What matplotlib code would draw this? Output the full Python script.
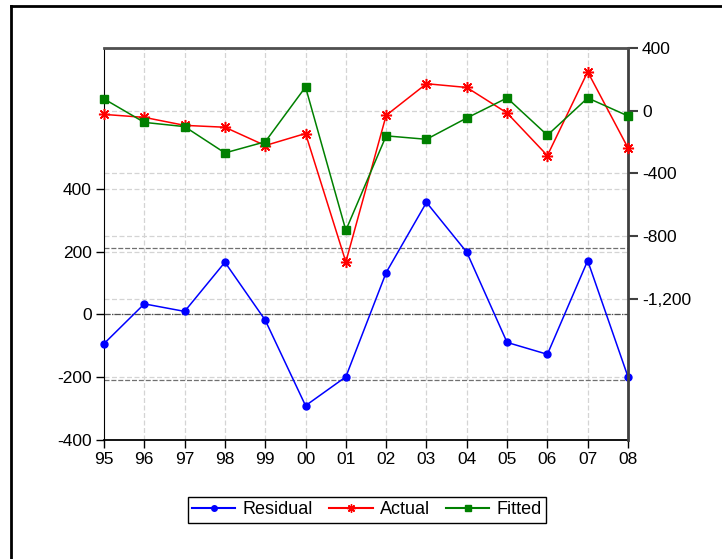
import matplotlib.pyplot as plt
import matplotlib.transforms as mtransforms
from matplotlib.lines import Line2D

plt.rcParams['font.family'] = ['Liberation Sans', 'DejaVu Sans']
plt.rcParams['axes.unicode_minus'] = False

# Datos
years = ["95", "96", "97", "98", "99", "00", "01", "02", "03", "04", "05", "06", "07", "08"]
residual = [-94, 33, 9, 166, -19, -292, -200, 133, 357, 198, -90, -128, 171, -200]
actual = [-24, -43, -94, -106, -223, -146, -966, -30, 172, 148, -15, -287, 248, -238]
fitted = [75, -75, -102, -270, -199, 151, -764, -161, -183, -47, 81, -157, 81, -34]
se_residual = 210

left_ticks = [-400, -200, 0, 200, 400]
right_ticks = [-1200, -800, -400, 0, 400]

x = list(range(len(years)))

fig = plt.figure(figsize=(7.22, 5.59), dpi=100)
ax = fig.add_axes([104 / 722, 1 - 439.5 / 559, 524 / 722, 391.5 / 559])
ax2 = ax.twinx()

ax.set_xlim(0, len(years) - 1)
ax.set_ylim(-400, 850)
ax2.set_ylim(-2100, 400)

# Rejilla
grid_kw = dict(color="#d4d4d4", linestyle=(0, (4, 2)), linewidth=0.9, zorder=0)
for xi in x[1:-1]:
    ax.axvline(xi, **grid_kw)
for v in left_ticks[1:]:
    ax.axhline(v, **grid_kw)
trans = mtransforms.blended_transform_factory(ax.transAxes, ax2.transData)
for v in right_ticks[:-1]:
    ax.plot([0, 1], [v, v], transform=trans, **grid_kw)

# Lineas de referencia del residuo
ax.axhline(0, color="#505050", linestyle=(0, (5, 1, 1, 1)), linewidth=0.9, zorder=1)
ax.axhline(se_residual, color="#707070", linestyle=(0, (4, 1.5)), linewidth=0.9, zorder=1)
ax.axhline(-se_residual, color="#707070", linestyle=(0, (4, 1.5)), linewidth=0.9, zorder=1)

ax.plot(x, residual, color="#0000ff", marker="o", markersize=5, linewidth=1.1,
        clip_on=False, zorder=3)
ax2.plot(x, actual, color="#ff0000", marker=(8, 2, 0), markersize=8, markeredgewidth=1.1,
         linewidth=1.1, clip_on=False, zorder=3)
ax2.plot(x, fitted, color="#008000", marker="s", markersize=6, linewidth=1.1,
         clip_on=False, zorder=3)

ax.set_xticks(x)
ax.set_xticklabels(years)
ax.set_yticks(left_ticks)
ax2.set_yticks(right_ticks)
ax2.set_yticklabels(["{:,}".format(v) for v in right_ticks])

ax.tick_params(axis="both", direction="out", length=6, width=1, labelsize=12.5, pad=3)
ax2.tick_params(axis="y", direction="out", length=7, width=1.5, color="#404040",
                labelsize=12.5, pad=3)

ax.spines["left"].set_color("black")
ax.spines["bottom"].set_color("black")
ax.spines["bottom"].set_linewidth(1.3)
ax2.spines["right"].set_color("#404040")
ax2.spines["right"].set_linewidth(2)
ax2.spines["top"].set_color("#505050")
ax2.spines["top"].set_linewidth(2)
ax2.spines["left"].set_visible(False)
ax2.spines["bottom"].set_visible(False)

# Leyenda
handles = [
    Line2D([], [], color="#0000ff", marker="o", markersize=4),
    Line2D([], [], color="#ff0000", marker=(8, 2, 0), markersize=6),
    Line2D([], [], color="#008000", marker="s", markersize=5),
]
leg = fig.legend(handles, ["Residual", "Actual", "Fitted"], loc="center",
                 bbox_to_anchor=(367 / 722, 1 - 510 / 559), ncol=3, fontsize=13,
                 fancybox=False, edgecolor="black", framealpha=1, borderpad=0.25,
                 handlelength=2.4, handletextpad=0.4, columnspacing=0.9, borderaxespad=0)
leg.get_frame().set_linewidth(1)

# Marco exterior
fig.add_artist(Line2D([11 / 722, 11 / 722], [0, 1 - 6 / 559], color="black", linewidth=2,
                      transform=fig.transFigure))
fig.add_artist(Line2D([11 / 722, 1], [1 - 6 / 559, 1 - 6 / 559], color="black", linewidth=2,
                      transform=fig.transFigure))

plt.savefig("out.png", dpi=100)
